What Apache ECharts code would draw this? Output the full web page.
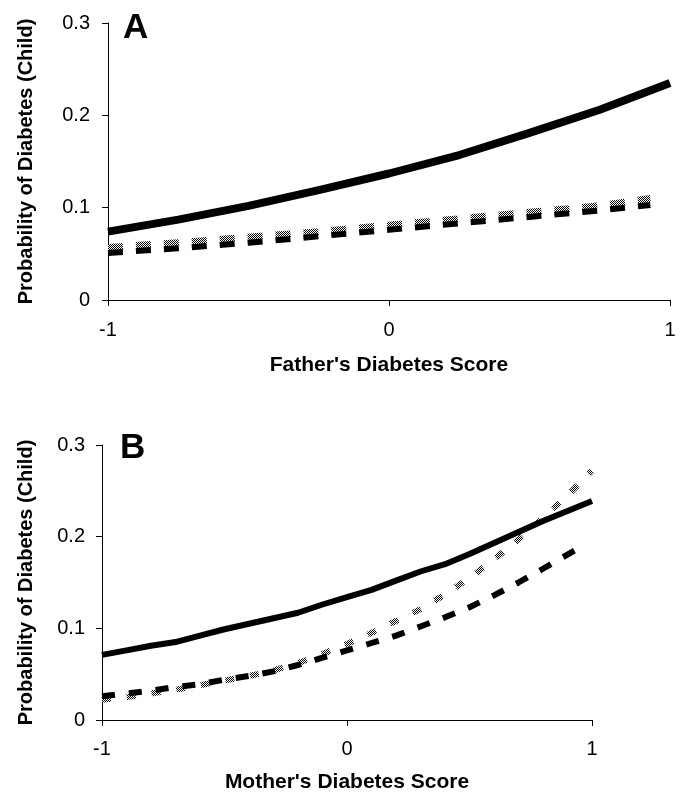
<!DOCTYPE html>
<html><head><meta charset="utf-8">
<script src="https://cdn.jsdelivr.net/npm/echarts@6/dist/echarts.min.js"></script>
<style>html,body{margin:0;padding:0;background:#fff}#c{width:682px;height:794px}</style>
</head><body><div id="c"></div>
<script>
// ---- Data ----
const xTicks = [-1, 0, 1];
const yTicks = [0, 0.1, 0.2, 0.3];

// Panel A (Father's score)
const xSolidA = [-1, -0.75, -0.5, -0.25, 0, 0.25, 0.5, 0.75, 1];
const solidA = [0.074, 0.087, 0.102, 0.119, 0.137, 0.157, 0.181, 0.206, 0.235];
const xDashA = [-1, -0.75, -0.5, -0.25, 0, 0.25, 0.5, 0.75, 0.93];
const dashA = [0.051, 0.056, 0.062, 0.069, 0.076, 0.083, 0.090, 0.097, 0.103];
const grayA = [0.057, 0.062, 0.068, 0.074, 0.081, 0.088, 0.095, 0.102, 0.110];

// Panel B (Mother's score)
const xB = [-1, -0.9, -0.8, -0.7, -0.6, -0.5, -0.4, -0.3, -0.2, -0.1, 0, 0.1, 0.2, 0.3, 0.4, 0.5, 0.6, 0.7, 0.8, 0.9, 1];
const solidB = [0.071, 0.076, 0.081, 0.085, 0.092, 0.099, 0.105, 0.111, 0.117, 0.126, 0.134, 0.142, 0.152, 0.162, 0.170, 0.181, 0.193, 0.205, 0.217, 0.228, 0.239];
const grayB = [0.022, 0.025, 0.029, 0.033, 0.038, 0.043, 0.048, 0.054, 0.062, 0.072, 0.083, 0.095, 0.108, 0.121, 0.137, 0.155, 0.175, 0.197, 0.220, 0.245, 0.272];
const xDashB = [-1, -0.9, -0.8, -0.7, -0.6, -0.5, -0.4, -0.3, -0.2, -0.1, 0, 0.1, 0.2, 0.3, 0.4, 0.5, 0.6, 0.7, 0.8, 0.93];
const dashB = [0.026, 0.029, 0.032, 0.036, 0.039, 0.044, 0.048, 0.053, 0.060, 0.068, 0.076, 0.084, 0.092, 0.102, 0.112, 0.123, 0.136, 0.150, 0.165, 0.185];

const yName = 'Probability of Diabetes (Child)';
const xNameA = "Father's Diabetes Score";
const xNameB = "Mother's Diabetes Score";

// ---- helpers ----
function pairs(xs, ys) { return xs.map((x, i) => [x, ys[i]]); }
function checker() {
  const c = document.createElement('canvas');
  c.width = 2; c.height = 2;
  const g = c.getContext('2d');
  g.fillStyle = '#fff'; g.fillRect(0, 0, 2, 2);
  g.fillStyle = '#000'; g.fillRect(0, 0, 1, 1); g.fillRect(1, 1, 1, 1);
  return c;
}
const pat = { image: checker(), repeat: 'repeat' };
const FONT = 'Liberation Sans';

function xAxisCfg(gi, name, gap, margin) {
  return {
    type: 'value', gridIndex: gi, min: -1, max: 1, interval: 1,
    name: name, nameLocation: 'middle', nameGap: gap,
    nameTextStyle: { fontFamily: FONT, fontWeight: 'bold', fontSize: 21, color: '#000' },
    axisLine: { show: true, onZero: false, lineStyle: { color: '#000', width: 1 } },
    axisTick: { show: true, length: 6, lineStyle: { color: '#000' } },
    axisLabel: { fontFamily: FONT, fontSize: 20, color: '#000', margin: margin },
    splitLine: { show: false }
  };
}
function yAxisCfg(gi, gap, margin) {
  return {
    type: 'value', gridIndex: gi, min: 0, max: 0.3, interval: 0.1,
    name: yName, nameLocation: 'middle', nameGap: gap, nameRotate: 90,
    nameTextStyle: { fontFamily: FONT, fontWeight: 'bold', fontSize: 20, color: '#000' },
    axisLine: { show: true, onZero: false, lineStyle: { color: '#000', width: 1 } },
    axisTick: { show: true, length: 6, lineStyle: { color: '#000' } },
    axisLabel: { fontFamily: FONT, fontSize: 20, color: '#000', margin: margin,
      formatter: v => (v === 0 ? '0' : v.toFixed(1)) },
    splitLine: { show: false }
  };
}
function line(gi, data, color, width, type, z) {
  return {
    type: 'line', xAxisIndex: gi, yAxisIndex: gi, data: data, symbol: 'none',
    smooth: false, silent: true, animation: false, z: z,
    lineStyle: { color: color, width: width, type: type, cap: 'butt', join: 'round' }
  };
}

const chart = echarts.init(document.getElementById('c'), null, { renderer: 'canvas' });
chart.setOption({
  animation: false,
  backgroundColor: '#fff',
  grid: [
    { left: 108, top: 23, width: 562, height: 277 },
    { left: 102, top: 445, width: 490, height: 276 }
  ],
  xAxis: [xAxisCfg(0, xNameA, 55, 20), xAxisCfg(1, xNameB, 52, 19)],
  yAxis: [yAxisCfg(0, 72, 18), yAxisCfg(1, 66, 17)],
  graphic: [
    { type: 'text', left: 123, top: 11, style: { text: 'A', font: 'bold 35px "Liberation Sans"', fill: '#000' } },
    { type: 'text', left: 120, top: 431, style: { text: 'B', font: 'bold 35px "Liberation Sans"', fill: '#000' } }
  ],
  series: [
    line(0, pairs(xSolidA, solidA), '#000', 8, 'solid', 5),
    line(0, pairs(xDashA, grayA), pat, 7, [15, 13], 3),
    line(0, pairs(xDashA, dashA), '#000', 6, [15, 13], 4),
    line(1, pairs(xB, solidB), '#000', 6, 'solid', 5),
    line(1, pairs(xB, grayB), pat, 6, [9, 16], 3),
    line(1, pairs(xDashB, dashB), '#000', 6, [13, 14], 4)
  ]
});
</script></body></html>
